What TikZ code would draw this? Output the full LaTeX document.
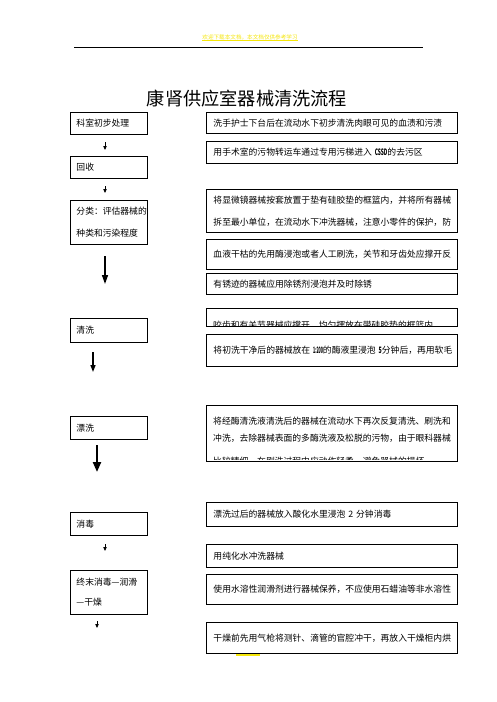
\documentclass[tikz,border=0pt]{standalone}
\usepackage{fontspec}
\usepackage{graphicx}
\setmainfont{Noto Sans CJK SC}
\usetikzlibrary{arrows.meta}
\definecolor{ink}{HTML}{000000}
\definecolor{hilite}{HTML}{F5E60A}
\newcommand\bodysize{\fontsize{8.8}{22}\selectfont}
\newcommand\squeeze[2]{\scalebox{#1}[1]{\bfseries #2}}
\tikzset{
  lbox/.style={draw=ink, line width=0.9pt, anchor=north west, text width=65pt,
    inner xsep=6pt, inner ysep=0pt, align=left, font=\bodysize},
  rbox/.style={draw=ink, line width=0.9pt, anchor=north west, text width=237pt,
    inner xsep=7pt, inner ysep=0pt, align=left, font=\bodysize},
  rtxt/.style={anchor=west, inner sep=0pt, font=\bodysize},
  arrsmall/.style={draw=ink, line width=0.8pt, -{Triangle[length=4pt,width=3.4pt]}},
  arrmid/.style={draw=ink, line width=1.5pt, -{Triangle[length=7pt,width=5pt]}},
  arrfat/.style={draw=ink, line width=1.4pt, -{Triangle[length=9pt,width=6pt]}},
  arrfatter/.style={draw=ink, line width=2.2pt, -{Triangle[length=10pt,width=8pt]}},
}
\begin{document}
\begin{tikzpicture}[x=1pt,y=-1pt]
  \useasboundingbox (0,0) rectangle (496,702);
  % header
  \node[text=hilite, font=\fontsize{5.6}{6}\selectfont, inner sep=0pt] (head) at (250,37) {欢迎下载本文档，本文档仅供参考学习};
  \draw[hilite, line width=0.6pt] (head.south west) -- (head.south east);
  \draw[ink, line width=0.8pt] (74,47) coordinate (hl) -- (423,47) coordinate (hr);
  \node[font=\fontsize{18.2}{20}\selectfont, inner sep=0pt] (title) at (247,99) {康肾供应室器械清洗流程};
  % left column
  \node[lbox, minimum height=22pt] (chu) at (70,112) {科室初步处理};
  \node[lbox, minimum height=22pt] (hui) at (70,156) {回收};
  \node[lbox, minimum height=44pt] (fen) at (70,200) {分类：评估器械的\\种类和污染程度};
  \node[lbox, minimum height=24pt] (qing) at (70,318) {清洗};
  \node[lbox, minimum height=23pt] (piao) at (70,416) {漂洗};
  \node[lbox, minimum height=23pt] (xiao) at (70,512) {消毒};
  \node[lbox, minimum height=44pt, font=\fontsize{8.8}{20}\selectfont] (zhong) at (70,570) {终末消毒—润滑\\—干燥};
  % arrows
  \coordinate (a1s) at (105,142); \coordinate (a1e) at (105,150);
  \coordinate (a2s) at (105,186); \coordinate (a2e) at (105,193);
  \coordinate (a3s) at (105,256); \coordinate (a3e) at (105,284);
  \coordinate (a4s) at (93,352);  \coordinate (a4e) at (93,372);
  \coordinate (a5s) at (97,445);  \coordinate (a5e) at (97,472);
  \coordinate (a6s) at (105,544); \coordinate (a6e) at (105,551);
  \coordinate (a7s) at (97,621);  \coordinate (a7e) at (97,628);
  \draw[arrsmall] (a1s) -- (a1e);
  \draw[arrsmall] (a2s) -- (a2e);
  \draw[arrfat] (a3s) -- (a3e);
  \draw[arrmid] (a4s) -- (a4e);
  \draw[arrfatter] (a5s) -- (a5e);
  \draw[arrsmall] (a6s) -- (a6e);
  \draw[arrsmall] (a7s) -- (a7e);
  % right column
  \node[rbox, minimum height=21pt] (r1) at (206,112) {洗手护士下台后在流动水下初步清洗肉眼可见的血渍和污渍};
  \node[rbox, minimum height=22pt] (r2) at (206,141) {\mbox{用手术室的污物转运车通过专用污梯进入 \squeeze{0.55}{CSSD}的去污区}};
  \node[rbox, minimum height=43pt] (r3) at (206,189) {将显微镜器械按套放置于垫有硅胶垫的框篮内，并将所有器械\\拆至最小单位，在流动水下冲洗器械，注意小零件的保护，防};
  \node[rbox, minimum height=30pt] (r4) at (206,239) {血液干枯的先用酶浸泡或者人工刷洗，关节和牙齿处应撑开反};
  \node[rbox, minimum height=21pt] (r5) at (206,273) {有锈迹的器械应用除锈剂浸泡并及时除锈};
  \node[rbox, minimum height=18pt] (r6) at (206,308) {};
  \begin{scope}
    \clip (r6.north west) rectangle (r6.south east);
    \node[rtxt] (r6t) at (213,325) {咬齿和有关节器械应撑开，均匀摆放在带硅胶垫的框篮内};
  \end{scope}
  \node[rbox, minimum height=32pt] (r7) at (206,334) {\mbox{将初洗干净后的器械放在 \squeeze{0.4}{1:200}的酶液里浸泡 \squeeze{0.6}{5}分钟后，再用软毛}};
  \node[rbox, minimum height=56pt] (r8) at (206,405) {};
  \begin{scope}
    \clip (206,405) rectangle (457,459);
    \node[rtxt] (r8a) at (213,421) {将经酶清洗液清洗后的器械在流动水下再次反复清洗、刷洗和};
    \node[rtxt] (r8b) at (213,438) {冲洗，去除器械表面的多酶洗液及松脱的污物，由于眼科器械};
    \node[rtxt] (r8c) at (213,461) {比较精细，在刷洗过程中应动作轻柔，避免器械的损坏};
  \end{scope}
  \node[rbox, minimum height=24pt] (r9) at (206,502) {\mbox{漂洗过后的器械放入酸化水里浸泡 2 分钟消毒}};
  \node[rbox, minimum height=23pt] (r10) at (206,544) {用纯化水冲洗器械};
  \node[rbox, minimum height=30pt] (r11) at (206,574) {使用水溶性润滑剂进行器械保养，不应使用石蜡油等非水溶性};
  \node[rbox, minimum height=31pt] (r12) at (206,622) {干燥前先用气枪将测针、滴管的官腔冲干，再放入干燥柜内烘};
  % footer mark
  \draw[hilite, line width=1.6pt] (236,655) coordinate (fl) -- (260,655) coordinate (fr);
\end{tikzpicture}
\end{document}
